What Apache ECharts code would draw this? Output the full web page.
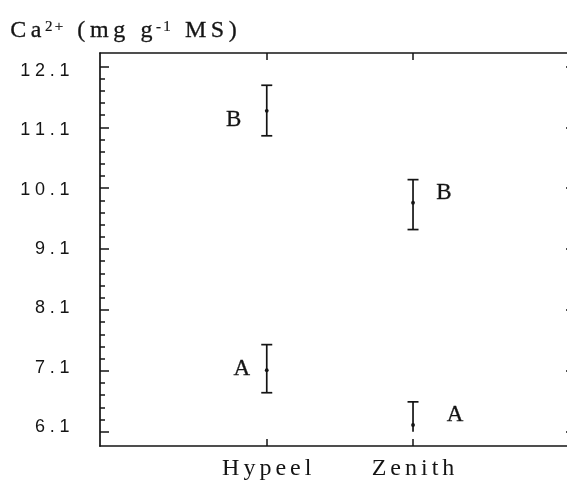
<!DOCTYPE html>
<html>
<head>
<meta charset="utf-8">
<script src="https://cdn.jsdelivr.net/npm/echarts@6/dist/echarts.min.js"></script>
<style>
  html, body { margin: 0; padding: 0; background: #fff; }
  #chart { width: 567px; height: 481px; }
</style>
</head>
<body>
<div id="chart"></div>
<script>
// Cultivars and their positions on the x axis
const cultivars = ['Hypeel', 'Zenith'];
const cultivarX = [1, 2];

// Ca2+ content (mg g-1 MS): means with lower / upper error limits
const meanB = [11.37, 9.86];
const lowB  = [10.96, 9.42];
const highB = [11.79, 10.24];
const meanA = [7.11, 6.21];
const lowA  = [6.74, 6.10];
const highA = [7.53, 6.59];
// lower cap drawn only where the bar is not cut by the axis
const capLowA = [1, 0];
const capLowB = [1, 1];

// Significance letters
const letterB = ['B', 'B'];
const letterA = ['A', 'A'];

// Tick labels of the y axis
const yTicks = [6.1, 7.1, 8.1, 9.1, 10.1, 11.1, 12.1];

const minorTicks = [];
for (let k = 0; k <= 30; k++) minorTicks.push(+(6.1 + 0.2 * k).toFixed(1));

const SERIF = 'Liberation Serif';
const SANS = 'Liberation Sans';
const INK = '#141414';

// spread characters apart as rich-text tokens
function spaced(str, style) {
  return str.split('').map(c => '{' + style + '|' + c + '}').join('');
}

function buildData(mean, low, high, capLow) {
  return cultivarX.map((x, i) => [x, mean[i], low[i], high[i], capLow[i]]);
}

// letter placement beside each bar: [dx, dy] from the mean point
const letterOffset = {
  B: { 1: [-33, 9], 2: [31, -10] },
  A: { 1: [-25, -1], 2: [42, -10] }
};

function renderErrorBar(params, api) {
  const x = api.value(0);
  const pMid = api.coord([x, api.value(1)]);
  const pLow = api.coord([x, api.value(2)]);
  const pHigh = api.coord([x, api.value(3)]);
  const capLow = api.value(4);
  const group = params.seriesIndex === 0 ? 'B' : 'A';
  const letter = (group === 'B' ? letterB : letterA)[params.dataIndex];
  const half = 5.5;
  const lineStyle = { stroke: INK, lineWidth: 1.7 };
  const children = [
    { type: 'line', shape: { x1: pHigh[0], y1: pHigh[1], x2: pLow[0], y2: pLow[1] }, style: lineStyle },
    { type: 'line', shape: { x1: pHigh[0] - half, y1: pHigh[1], x2: pHigh[0] + half, y2: pHigh[1] }, style: lineStyle },
    { type: 'circle', shape: { cx: pMid[0], cy: pMid[1], r: 1.9 }, style: { fill: INK } }
  ];
  if (capLow) {
    children.push({ type: 'line', shape: { x1: pLow[0] - half, y1: pLow[1], x2: pLow[0] + half, y2: pLow[1] }, style: lineStyle });
  }
  const off = letterOffset[group][Math.round(x)];
  children.push({
    type: 'text',
    style: {
      text: letter, x: pMid[0] + off[0], y: pMid[1] + off[1],
      font: '23px "Liberation Serif", serif', fill: INK, stroke: INK, lineWidth: 0.3,
      align: 'center', verticalAlign: 'middle'
    }
  });
  return { type: 'group', children };
}

const chart = echarts.init(document.getElementById('chart'), null, { renderer: 'canvas' });

const yMin = 5.865, yMax = 12.32;
// the printed tick labels sit on a slightly tighter scale than the ticks
const labelMin = 5.78, labelMax = 12.403;
const xMin = -0.14, xMax = 3.08;

const tickLine = { color: INK, width: 1.5 };
const axisLine = { color: INK, width: 1.7 };

chart.setOption({
  animation: false,
  backgroundColor: '#fff',
  graphic: [{
    type: 'text',
    left: 10,
    top: 19,
    style: {
      text: spaced('Ca', 't') + spaced('2+', 'sup') + spaced(' (mg g', 't') + spaced('-1', 'sup') + spaced(' MS)', 't'),
      fontFamily: SERIF, fontSize: 24, fontWeight: 'normal', fill: INK,
      rich: {
        t: { fontFamily: SERIF, fontSize: 24, fontWeight: 'normal', fill: INK, stroke: INK, lineWidth: 0.3, padding: [0, 2.3, 0, 2.3], verticalAlign: 'bottom' },
        sup: { fontFamily: SERIF, fontSize: 15, fontWeight: 'normal', fill: INK, stroke: INK, lineWidth: 0.2, padding: [0, 1.2, 0, 1.2], verticalAlign: 'top' }
      }
    }
  }],
  grid: { left: 100, top: 53, width: 471, bottom: 35, show: false, outerBoundsMode: 'none', containLabel: false },
  xAxis: [
    {
      type: 'value', min: xMin, max: xMax, position: 'bottom', offset: 0,
      axisLine: { show: true, onZero: false, lineStyle: axisLine },
      axisTick: { show: true, inside: true, length: 7, customValues: cultivarX, lineStyle: tickLine },
      axisLabel: {
        show: true, customValues: cultivarX, margin: 11,
        fontFamily: SERIF, fontSize: 24, fontWeight: 'normal', color: INK,
        formatter: v => spaced(cultivars[Math.round(v) - 1], 'c'),
        rich: { c: { fontFamily: SERIF, fontSize: 24, fontWeight: 'normal', color: INK, padding: [0, 2, 0, 2] } }
      },
      splitLine: { show: false }
    },
    {
      type: 'value', min: xMin, max: xMax, position: 'top', offset: 0,
      axisLine: { show: true, onZero: false, lineStyle: axisLine },
      axisTick: { show: true, inside: true, length: 7, customValues: cultivarX, lineStyle: tickLine },
      axisLabel: { show: false },
      splitLine: { show: false }
    }
  ],
  yAxis: [
    {
      type: 'value', min: yMin, max: yMax, position: 'left', offset: 0,
      axisLine: { show: true, onZero: false, lineStyle: axisLine },
      axisTick: { show: true, inside: true, length: 9, customValues: yTicks, lineStyle: tickLine },
      axisLabel: { show: false },
      splitLine: { show: false }
    },
    {
      type: 'value', min: yMin, max: yMax, position: 'left', offset: 0,
      axisLine: { show: false, onZero: false },
      axisTick: { show: true, inside: true, length: 5, customValues: minorTicks, lineStyle: tickLine },
      axisLabel: { show: false },
      splitLine: { show: false }
    },
    {
      type: 'value', min: yMin, max: yMax, position: 'right', offset: 0,
      axisLine: { show: true, onZero: false, lineStyle: axisLine },
      axisTick: { show: true, inside: true, length: 5, customValues: yTicks, lineStyle: tickLine },
      axisLabel: { show: false },
      splitLine: { show: false }
    },
    {
      type: 'value', min: labelMin, max: labelMax, position: 'left', offset: 0,
      axisLine: { show: false, onZero: false },
      axisTick: { show: false },
      axisLabel: {
        show: true, customValues: yTicks, margin: 28,
        fontFamily: SANS, fontSize: 18, fontWeight: 'normal', color: INK,
        formatter: v => spaced(v.toFixed(1), 'n'),
        rich: { n: { fontFamily: SANS, fontSize: 18, fontWeight: 'normal', color: INK, padding: [0, 2.4, 0, 2.4] } }
      },
      splitLine: { show: false }
    }
  ],
  series: [
    {
      type: 'custom', name: 'B', xAxisIndex: 0, yAxisIndex: 0,
      renderItem: renderErrorBar, clip: true,
      encode: { x: 0, y: [1, 2, 3] },
      data: buildData(meanB, lowB, highB, capLowB)
    },
    {
      type: 'custom', name: 'A', xAxisIndex: 0, yAxisIndex: 0,
      renderItem: renderErrorBar, clip: true,
      encode: { x: 0, y: [1, 2, 3] },
      data: buildData(meanA, lowA, highA, capLowA)
    }
  ]
});
</script>
</body>
</html>
